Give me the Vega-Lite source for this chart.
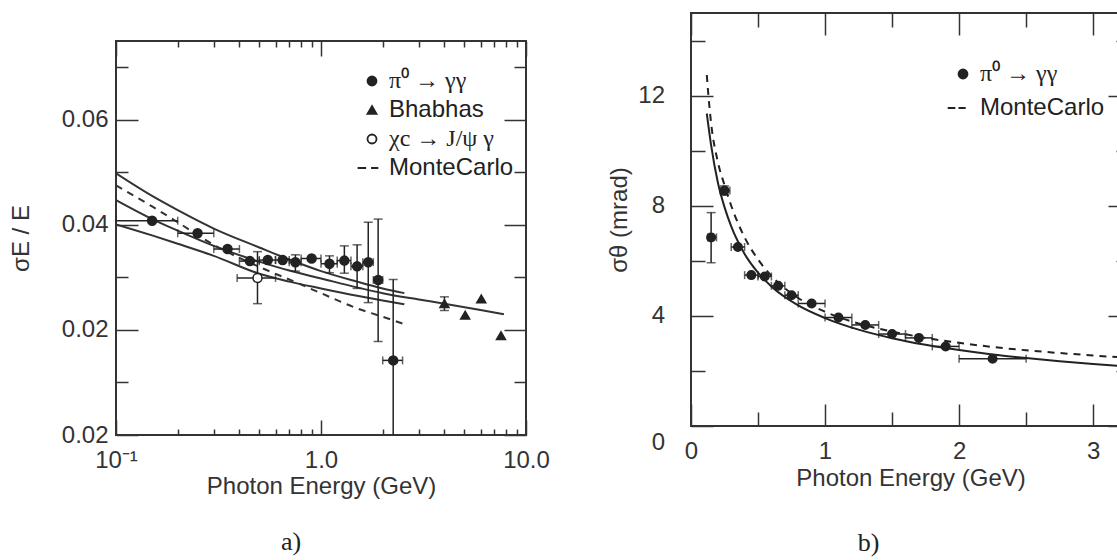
{
  "$schema": "https://vega.github.io/schema/vega-lite/v6.json",
  "padding": {"left": 8, "top": 11, "right": 0, "bottom": 0},
  "background": "white",
  "config": {
    "view": {"stroke": "#333", "strokeWidth": 2},
    "axis": {"grid": false, "domain": false, "labelFont": "Liberation Sans", "labelFontSize": 24, "titleFont": "Liberation Sans", "titleFontSize": 24, "titleFontWeight": "normal", "labelColor": "#333", "titleColor": "#333", "tickColor": "#333", "tickWidth": 1.5, "labelOverlap": false, "labelFlush": false, "labelBound": false},
    "legend": {"labelFont": "Liberation Sans", "labelFontSize": 24, "labelColor": "#222", "symbolStrokeColor": "#222", "symbolStrokeWidth": 1.5, "symbolSize": 81, "labelLimit": 500, "padding": 0},
    "title": {"font": "Liberation Serif", "fontSize": 26, "fontWeight": "normal", "color": "#222"}
  },
  "datasets": {
    "ptsA": [
      {"series": "π⁰ → γγ", "E": 0.15, "v": 0.0408, "xlo": 0.1, "xhi": 0.2},
      {"series": "π⁰ → γγ", "E": 0.25, "v": 0.0384, "xlo": 0.2, "xhi": 0.3},
      {"series": "π⁰ → γγ", "E": 0.35, "v": 0.0354, "xlo": 0.3, "xhi": 0.4},
      {"series": "π⁰ → γγ", "E": 0.45, "v": 0.0331, "xlo": 0.4, "xhi": 0.5},
      {"series": "π⁰ → γγ", "E": 0.55, "v": 0.0333, "xlo": 0.5, "xhi": 0.6},
      {"series": "π⁰ → γγ", "E": 0.65, "v": 0.0333, "xlo": 0.6, "xhi": 0.7},
      {"series": "π⁰ → γγ", "E": 0.75, "v": 0.0329, "xlo": 0.7, "xhi": 0.8, "ylo": 0.0312, "yhi": 0.0343},
      {"series": "π⁰ → γγ", "E": 0.9, "v": 0.0336, "xlo": 0.8, "xhi": 1.0},
      {"series": "π⁰ → γγ", "E": 1.1, "v": 0.0326, "xlo": 1.0, "xhi": 1.2, "ylo": 0.0309, "yhi": 0.0341},
      {"series": "π⁰ → γγ", "E": 1.3, "v": 0.0332, "xlo": 1.2, "xhi": 1.4, "ylo": 0.0308, "yhi": 0.036},
      {"series": "π⁰ → γγ", "E": 1.5, "v": 0.0321, "xlo": 1.4, "xhi": 1.6, "ylo": 0.0279, "yhi": 0.0362},
      {"series": "π⁰ → γγ", "E": 1.7, "v": 0.0329, "xlo": 1.6, "xhi": 1.8, "ylo": 0.0252, "yhi": 0.0405},
      {"series": "π⁰ → γγ", "E": 1.9, "v": 0.0295, "xlo": 1.8, "xhi": 2.0, "ylo": 0.0178, "yhi": 0.0411},
      {"series": "π⁰ → γγ", "E": 2.25, "v": 0.0142, "xlo": 2.0, "xhi": 2.5, "ylo": -0.0012, "yhi": 0.0296},
      {"series": "Bhabhas", "E": 4.0, "v": 0.025, "ylo": 0.0237, "yhi": 0.0263},
      {"series": "Bhabhas", "E": 5.05, "v": 0.0228},
      {"series": "Bhabhas", "E": 6.05, "v": 0.0259},
      {"series": "Bhabhas", "E": 7.55, "v": 0.0189},
      {"series": "χc → J/ψ γ", "E": 0.49, "v": 0.0299, "xlo": 0.39, "xhi": 0.6, "ylo": 0.025, "yhi": 0.0349}
    ],
    "curvesA": [
      {"curve": "upper", "E": 0.1, "v": 0.0498}, {"curve": "upper", "E": 0.15, "v": 0.0455}, {"curve": "upper", "E": 0.2, "v": 0.0428}, {"curve": "upper", "E": 0.3, "v": 0.0393}, {"curve": "upper", "E": 0.5, "v": 0.0357}, {"curve": "upper", "E": 0.7, "v": 0.0334}, {"curve": "upper", "E": 1.0, "v": 0.0312}, {"curve": "upper", "E": 1.5, "v": 0.0292}, {"curve": "upper", "E": 2.0, "v": 0.0279}, {"curve": "upper", "E": 2.55, "v": 0.027},
      {"curve": "central", "E": 0.1, "v": 0.0447}, {"curve": "central", "E": 0.15, "v": 0.0411}, {"curve": "central", "E": 0.2, "v": 0.0389}, {"curve": "central", "E": 0.3, "v": 0.036}, {"curve": "central", "E": 0.5, "v": 0.033}, {"curve": "central", "E": 0.7, "v": 0.0313}, {"curve": "central", "E": 1.0, "v": 0.0298}, {"curve": "central", "E": 1.5, "v": 0.0281}, {"curve": "central", "E": 2.0, "v": 0.027}, {"curve": "central", "E": 3.0, "v": 0.0258}, {"curve": "central", "E": 4.0, "v": 0.025}, {"curve": "central", "E": 6.0, "v": 0.0238}, {"curve": "central", "E": 7.8, "v": 0.023},
      {"curve": "lower", "E": 0.1, "v": 0.0401}, {"curve": "lower", "E": 0.15, "v": 0.038}, {"curve": "lower", "E": 0.2, "v": 0.0364}, {"curve": "lower", "E": 0.3, "v": 0.0341}, {"curve": "lower", "E": 0.5, "v": 0.0307}, {"curve": "lower", "E": 0.7, "v": 0.0292}, {"curve": "lower", "E": 1.0, "v": 0.0279}, {"curve": "lower", "E": 1.5, "v": 0.0265}, {"curve": "lower", "E": 2.0, "v": 0.0256}, {"curve": "lower", "E": 2.55, "v": 0.0249}
    ],
    "mcA": [
      {"E": 0.1, "v": 0.0475}, {"E": 0.15, "v": 0.0435}, {"E": 0.2, "v": 0.0405}, {"E": 0.3, "v": 0.0362}, {"E": 0.5, "v": 0.032}, {"E": 0.7, "v": 0.0296}, {"E": 1.0, "v": 0.027}, {"E": 1.5, "v": 0.0241}, {"E": 2.0, "v": 0.0225}, {"E": 2.55, "v": 0.0211}
    ],
    "ptsB": [
      {"series": "π⁰ → γγ", "E": 0.15, "v": 6.85, "xlo": 0.125, "xhi": 0.19, "ylo": 5.93, "yhi": 7.75},
      {"series": "π⁰ → γγ", "E": 0.25, "v": 8.55, "xlo": 0.217, "xhi": 0.29, "ylo": 8.38, "yhi": 8.72},
      {"series": "π⁰ → γγ", "E": 0.35, "v": 6.5, "xlo": 0.3, "xhi": 0.4},
      {"series": "π⁰ → γγ", "E": 0.45, "v": 5.48, "xlo": 0.4, "xhi": 0.5},
      {"series": "π⁰ → γγ", "E": 0.55, "v": 5.43, "xlo": 0.5, "xhi": 0.6},
      {"series": "π⁰ → γγ", "E": 0.65, "v": 5.09, "xlo": 0.6, "xhi": 0.7},
      {"series": "π⁰ → γγ", "E": 0.75, "v": 4.75, "xlo": 0.7, "xhi": 0.8},
      {"series": "π⁰ → γγ", "E": 0.9, "v": 4.45, "xlo": 0.8, "xhi": 1.0},
      {"series": "π⁰ → γγ", "E": 1.1, "v": 3.94, "xlo": 1.0, "xhi": 1.2},
      {"series": "π⁰ → γγ", "E": 1.3, "v": 3.67, "xlo": 1.2, "xhi": 1.4},
      {"series": "π⁰ → γγ", "E": 1.5, "v": 3.34, "xlo": 1.4, "xhi": 1.6},
      {"series": "π⁰ → γγ", "E": 1.7, "v": 3.2, "xlo": 1.6, "xhi": 1.8},
      {"series": "π⁰ → γγ", "E": 1.9, "v": 2.89, "xlo": 1.8, "xhi": 2.0},
      {"series": "π⁰ → γγ", "E": 2.25, "v": 2.44, "xlo": 2.0, "xhi": 2.5}
    ],
    "curveB": [
      {"E": 0.118, "v": 11.35}, {"E": 0.15, "v": 10.2}, {"E": 0.2, "v": 8.85}, {"E": 0.25, "v": 7.95}, {"E": 0.3, "v": 7.25}, {"E": 0.4, "v": 6.25}, {"E": 0.5, "v": 5.57}, {"E": 0.6, "v": 5.07}, {"E": 0.8, "v": 4.38}, {"E": 1.0, "v": 3.92}, {"E": 1.25, "v": 3.5}, {"E": 1.5, "v": 3.19}, {"E": 1.75, "v": 2.95}, {"E": 2.0, "v": 2.76}, {"E": 2.25, "v": 2.6}, {"E": 2.5, "v": 2.47}, {"E": 2.75, "v": 2.35}, {"E": 3.0, "v": 2.25}, {"E": 3.3, "v": 2.15}
    ],
    "mcB": [
      {"E": 0.118, "v": 12.75}, {"E": 0.13, "v": 12.0}, {"E": 0.15, "v": 11.0}, {"E": 0.2, "v": 9.6}, {"E": 0.25, "v": 8.75}, {"E": 0.3, "v": 8.0}, {"E": 0.4, "v": 6.85}, {"E": 0.5, "v": 6.05}, {"E": 0.6, "v": 5.45}, {"E": 0.8, "v": 4.65}, {"E": 1.0, "v": 4.15}, {"E": 1.25, "v": 3.72}, {"E": 1.5, "v": 3.43}, {"E": 1.75, "v": 3.2}, {"E": 2.0, "v": 3.02}, {"E": 2.25, "v": 2.87}, {"E": 2.5, "v": 2.75}, {"E": 2.75, "v": 2.65}, {"E": 3.0, "v": 2.56}, {"E": 3.3, "v": 2.47}
    ]
  },
  "spacing": 55,
  "resolve": {"scale": {"x": "independent", "y": "independent", "shape": "independent", "fill": "independent"}, "legend": {"shape": "independent", "fill": "independent"}},
  "hconcat": [
    {
      "spacing": 25,
      "vconcat": [
        {"view": {"stroke": null}, "width": 10, "height": 1, "data": {"values": []}, "mark": "point"},
        {
          "width": 410,
          "height": 394,
          "title": {"text": "a)", "orient": "bottom", "offset": 31, "dx": -30},
          "resolve": {"axis": {"x": "independent", "y": "independent"}},
          "layer": [
            {
              "data": {"name": "curvesA"},
              "mark": {"type": "line", "interpolate": "monotone", "color": "#333", "strokeWidth": 2, "clip": true},
              "encoding": {
                "x": {"field": "E", "type": "quantitative", "scale": {"type": "log", "domain": [0.1, 10], "nice": false}, "axis": {"orient": "bottom", "values": [0.1, 1, 10], "labelExpr": "datum.value < 0.5 ? '10⁻¹' : (datum.value < 5 ? '1.0' : '10.0')", "tickSize": -15, "labelPadding": 28, "title": "Photon Energy (GeV)", "titlePadding": 2}},
                "y": {"field": "v", "type": "quantitative", "scale": {"domain": [0, 0.075], "nice": false, "zero": false}, "axis": {"orient": "left", "values": [0, 0.02, 0.04, 0.06], "labelExpr": "datum.value == 0 ? '0.02' : format(datum.value, '.2f')", "tickSize": -22, "labelPadding": 30, "title": "σE / E", "titlePadding": 28}},
                "detail": {"field": "curve"}
              }
            },
            {
              "data": {"name": "mcA"},
              "mark": {"type": "line", "interpolate": "monotone", "color": "#333", "strokeWidth": 2, "strokeDash": [7, 6], "clip": true},
              "encoding": {
                "x": {"field": "E", "type": "quantitative", "scale": {"type": "log", "domain": [0.1, 10], "nice": false}, "axis": {"orient": "top", "values": [0.1, 1, 10], "tickSize": -15, "labels": false, "title": null}},
                "y": {"field": "v", "type": "quantitative", "scale": {"domain": [0, 0.075], "nice": false, "zero": false}, "axis": {"orient": "right", "values": [0, 0.02, 0.04, 0.06], "tickSize": -22, "labels": false, "title": null}}
              }
            },
            {
              "data": {"name": "ptsA"},
              "transform": [{"filter": "isValid(datum.xlo)"}],
              "mark": {"type": "rule", "color": "#222", "strokeWidth": 1.5, "clip": true},
              "encoding": {
                "x": {"field": "xlo", "type": "quantitative", "scale": {"type": "log", "domain": [0.1, 10], "nice": false}, "axis": {"orient": "bottom", "values": [0.2, 0.3, 0.4, 0.5, 0.6, 0.7, 0.8, 0.9, 2, 3, 4, 5, 6, 7, 8, 9], "tickSize": -6, "labels": false, "title": null}},
                "x2": {"field": "xhi"},
                "y": {"field": "v", "type": "quantitative", "scale": {"domain": [0, 0.075], "nice": false, "zero": false}, "axis": {"orient": "left", "values": [0.01, 0.03, 0.05, 0.07], "tickSize": -12, "labels": false, "title": null}}
              }
            },
            {
              "data": {"name": "ptsA"},
              "transform": [{"filter": "isValid(datum.ylo)"}],
              "mark": {"type": "rule", "color": "#222", "strokeWidth": 1.5, "clip": true},
              "encoding": {
                "x": {"field": "E", "type": "quantitative", "scale": {"type": "log", "domain": [0.1, 10], "nice": false}, "axis": {"orient": "top", "values": [0.2, 0.3, 0.4, 0.5, 0.6, 0.7, 0.8, 0.9, 2, 3, 4, 5, 6, 7, 8, 9], "tickSize": -6, "labels": false, "title": null}},
                "y": {"field": "ylo", "type": "quantitative", "scale": {"domain": [0, 0.075], "nice": false, "zero": false}, "axis": {"orient": "right", "values": [0.01, 0.03, 0.05, 0.07], "tickSize": -12, "labels": false, "title": null}},
                "y2": {"field": "yhi"}
              }
            },
            {
              "data": {"name": "ptsA"},
              "transform": [{"filter": "isValid(datum.xlo)"}, {"fold": ["xlo", "xhi"], "as": ["end", "xe"]}],
              "mark": {"type": "tick", "orient": "vertical", "size": 8, "thickness": 1.5, "color": "#222", "clip": true},
              "encoding": {
                "x": {"field": "xe", "type": "quantitative", "scale": {"type": "log", "domain": [0.1, 10], "nice": false}, "axis": null},
                "y": {"field": "v", "type": "quantitative", "scale": {"domain": [0, 0.075], "nice": false, "zero": false}, "axis": null}
              }
            },
            {
              "data": {"name": "ptsA"},
              "transform": [{"filter": "isValid(datum.ylo)"}, {"fold": ["ylo", "yhi"], "as": ["end", "ye"]}],
              "mark": {"type": "tick", "orient": "horizontal", "size": 9, "thickness": 1.5, "color": "#222", "clip": true},
              "encoding": {
                "x": {"field": "E", "type": "quantitative", "scale": {"type": "log", "domain": [0.1, 10], "nice": false}, "axis": null},
                "y": {"field": "ye", "type": "quantitative", "scale": {"domain": [0, 0.075], "nice": false, "zero": false}, "axis": null}
              }
            },
            {
              "data": {"name": "ptsA"},
              "mark": {"type": "point", "filled": true, "size": 81, "stroke": "#222", "strokeWidth": 1.5, "opacity": 1},
              "encoding": {
                "x": {"field": "E", "type": "quantitative", "scale": {"type": "log", "domain": [0.1, 10], "nice": false}, "axis": null},
                "y": {"field": "v", "type": "quantitative", "scale": {"domain": [0, 0.075], "nice": false, "zero": false}, "axis": null},
                "shape": {"field": "series", "type": "nominal", "scale": {"domain": ["π⁰ → γγ", "Bhabhas", "χc → J/ψ γ", "MonteCarlo"], "range": ["circle", "triangle-up", "circle", "M-3.2,0H-1.3M-0.2,0H1.4"]}, "legend": {"orient": "none", "legendX": 244, "legendY": 56, "title": null, "labelOffset": 5, "rowPadding": 5, "encoding": {"symbols": {"stroke": {"value": "#222"}, "strokeWidth": {"value": 1.8}}, "labels": {"font": {"condition": {"test": "datum.value === 'Bhabhas' || datum.value === 'MonteCarlo'", "value": "Liberation Sans"}, "value": "Liberation Serif"}}}}},
                "fill": {"field": "series", "type": "nominal", "scale": {"domain": ["π⁰ → γγ", "Bhabhas", "χc → J/ψ γ", "MonteCarlo"], "range": ["#222", "#222", "white", "transparent"]}, "legend": {"orient": "none", "legendX": 244, "legendY": 56, "title": null, "labelOffset": 5, "rowPadding": 5, "encoding": {"symbols": {"stroke": {"value": "#222"}, "strokeWidth": {"value": 1.8}}, "labels": {"font": {"condition": {"test": "datum.value === 'Bhabhas' || datum.value === 'MonteCarlo'", "value": "Liberation Sans"}, "value": "Liberation Serif"}}}}}
              }
            }
          ]
        }
      ]
    },
    {
      "width": 439,
      "height": 413,
      "title": {"text": "b)", "orient": "bottom", "offset": 40, "dx": -42},
      "resolve": {"axis": {"x": "independent", "y": "independent"}},
      "layer": [
        {
          "data": {"name": "curveB"},
          "mark": {"type": "line", "interpolate": "monotone", "color": "#222", "strokeWidth": 2, "clip": true},
          "encoding": {
            "x": {"field": "E", "type": "quantitative", "scale": {"domain": [0, 3.275], "nice": false, "zero": false}, "axis": {"orient": "bottom", "values": [0, 1, 2, 3], "format": "d", "tickSize": -22, "labelPadding": 35, "title": "Photon Energy (GeV)", "titlePadding": 3}},
            "y": {"field": "v", "type": "quantitative", "scale": {"domain": [0, 15], "nice": false, "zero": false}, "axis": {"orient": "left", "values": [0, 4, 8, 12], "format": "d", "tickSize": -22, "labelPadding": 48.5, "title": "σθ  (mrad)", "titlePadding": 6, "encoding": {"labels": {"dy": {"condition": {"test": "datum.value === 0", "value": 16}, "value": 0}}}}}
          }
        },
        {
          "data": {"name": "mcB"},
          "mark": {"type": "line", "interpolate": "monotone", "color": "#222", "strokeWidth": 2, "strokeDash": [7, 6], "clip": true},
          "encoding": {
            "x": {"field": "E", "type": "quantitative", "scale": {"domain": [0, 3.275], "nice": false, "zero": false}, "axis": {"orient": "top", "values": [0, 1, 2, 3], "tickSize": -22, "labels": false, "title": null}},
            "y": {"field": "v", "type": "quantitative", "scale": {"domain": [0, 15], "nice": false, "zero": false}, "axis": {"orient": "right", "values": [0, 4, 8, 12], "tickSize": -22, "labels": false, "title": null}}
          }
        },
        {
          "data": {"name": "ptsB"},
          "mark": {"type": "rule", "color": "#222", "strokeWidth": 1.5, "clip": true},
          "encoding": {
            "x": {"field": "xlo", "type": "quantitative", "scale": {"domain": [0, 3.275], "nice": false, "zero": false}, "axis": {"orient": "bottom", "values": [0.5, 1.5, 2.5], "tickSize": -14, "labels": false, "title": null}},
            "x2": {"field": "xhi"},
            "y": {"field": "v", "type": "quantitative", "scale": {"domain": [0, 15], "nice": false, "zero": false}, "axis": {"orient": "left", "values": [2, 6, 10, 14], "tickSize": -14, "labels": false, "title": null}}
          }
        },
        {
          "data": {"name": "ptsB"},
          "transform": [{"filter": "isValid(datum.ylo)"}],
          "mark": {"type": "rule", "color": "#222", "strokeWidth": 1.5, "clip": true},
          "encoding": {
            "x": {"field": "E", "type": "quantitative", "scale": {"domain": [0, 3.275], "nice": false, "zero": false}, "axis": {"orient": "top", "values": [0.5, 1.5, 2.5], "tickSize": -14, "labels": false, "title": null}},
            "y": {"field": "ylo", "type": "quantitative", "scale": {"domain": [0, 15], "nice": false, "zero": false}, "axis": {"orient": "right", "values": [2, 6, 10, 14], "tickSize": -14, "labels": false, "title": null}},
            "y2": {"field": "yhi"}
          }
        },
        {
          "data": {"name": "ptsB"},
          "transform": [{"fold": ["xlo", "xhi"], "as": ["end", "xe"]}],
          "mark": {"type": "tick", "orient": "vertical", "size": 8, "thickness": 1.5, "color": "#222", "clip": true},
          "encoding": {
            "x": {"field": "xe", "type": "quantitative", "scale": {"domain": [0, 3.275], "nice": false, "zero": false}, "axis": null},
            "y": {"field": "v", "type": "quantitative", "scale": {"domain": [0, 15], "nice": false, "zero": false}, "axis": null}
          }
        },
        {
          "data": {"name": "ptsB"},
          "transform": [{"filter": "isValid(datum.ylo)"}, {"fold": ["ylo", "yhi"], "as": ["end", "ye"]}],
          "mark": {"type": "tick", "orient": "horizontal", "size": 9, "thickness": 1.5, "color": "#222", "clip": true},
          "encoding": {
            "x": {"field": "E", "type": "quantitative", "scale": {"domain": [0, 3.275], "nice": false, "zero": false}, "axis": null},
            "y": {"field": "ye", "type": "quantitative", "scale": {"domain": [0, 15], "nice": false, "zero": false}, "axis": null}
          }
        },
        {
          "data": {"name": "ptsB"},
          "mark": {"type": "point", "filled": true, "size": 72, "stroke": "#222", "strokeWidth": 1.5, "opacity": 1},
          "encoding": {
            "x": {"field": "E", "type": "quantitative", "scale": {"domain": [0, 3.275], "nice": false, "zero": false}, "axis": null},
            "y": {"field": "v", "type": "quantitative", "scale": {"domain": [0, 15], "nice": false, "zero": false}, "axis": null},
            "shape": {"field": "series", "type": "nominal", "scale": {"domain": ["π⁰ → γγ", "MonteCarlo"], "range": ["circle", "M-3.4,0H-1.7M-1.0,0H0.6"]}, "legend": {"orient": "none", "legendX": 260, "legendY": 49, "title": null, "labelOffset": 5, "rowPadding": 10, "encoding": {"symbols": {"stroke": {"value": "#222"}, "strokeWidth": {"value": 1.8}}, "labels": {"font": {"condition": {"test": "datum.value === 'MonteCarlo'", "value": "Liberation Sans"}, "value": "Liberation Serif"}}}}},
            "fill": {"field": "series", "type": "nominal", "scale": {"domain": ["π⁰ → γγ", "MonteCarlo"], "range": ["#222", "transparent"]}, "legend": {"orient": "none", "legendX": 260, "legendY": 49, "title": null, "labelOffset": 5, "rowPadding": 10, "encoding": {"symbols": {"stroke": {"value": "#222"}, "strokeWidth": {"value": 1.8}}, "labels": {"font": {"condition": {"test": "datum.value === 'MonteCarlo'", "value": "Liberation Sans"}, "value": "Liberation Serif"}}}}}
          }
        }
      ]
    }
  ]
}
